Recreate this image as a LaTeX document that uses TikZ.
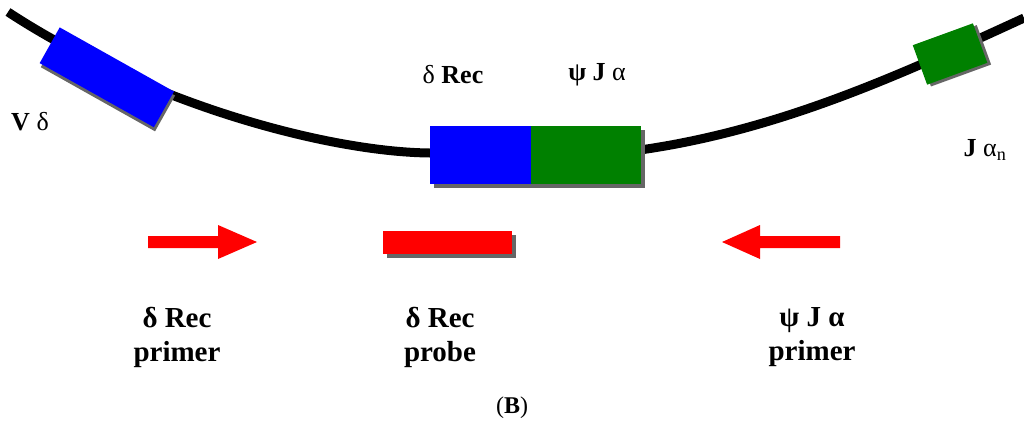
\documentclass[tikz,border=0pt]{standalone}
\usepackage{fontspec}
\setmainfont{Liberation Serif}
\begin{document}
\begin{tikzpicture}[x=1pt,y=-1pt,
  blk/.style={draw=none,minimum height=#1},
  shad/.style={fill=black!60},
  lab/.style={font=\fontsize{29}{34}\selectfont\bfseries,align=center},
  tlab/.style={font=\fontsize{26}{30}\selectfont}]
\useasboundingbox (0,0) rectangle (1024,432);
% DNA curve
\draw[line width=9pt,line cap=butt] (8,12) .. controls (150,105) and (330,152) .. (430,153) -- (640,150) .. controls (780,130) and (900,75) .. (1024,18);
% left blue block
\begin{scope}[shift={(107,78)},rotate=-29.3]
 \fill[shad] (-63,-18) rectangle (68,23);
 \fill[blue] (-66,-21) rectangle (65,20);
\end{scope}
% right small green
\begin{scope}[shift={(950,54)},rotate=20]
 \fill[shad] (-29,-18) rectangle (35,24);
 \fill[green!50!black] (-32,-21) rectangle (32,21);
\end{scope}
% central blocks
\fill[shad] (434,130) rectangle (645,188);
\node[blk=58pt,fill=blue,minimum width=101pt,anchor=north west,inner sep=0] (rec) at (430,126) {};
\node[blk=58pt,fill=green!50!black,minimum width=110pt,anchor=north west,inner sep=0] (psi) at (531,126) {};
% probe
\fill[shad] (387,235) rectangle (516,258);
\node[fill=red,minimum width=129pt,minimum height=23pt,inner sep=0,anchor=north west] (probe) at (383,231) {};
% arrows
\fill[red] (148,236) -- (218,236) -- (218,225) -- (257,242) -- (218,259) -- (218,248) -- (148,248) -- cycle;
\fill[red] (840,236) -- (760,236) -- (760,225) -- (722,242) -- (760,259) -- (760,248) -- (840,248) -- cycle;
% labels
\node[tlab] (vd) at (30,122) {\textbf{V} δ};
\node[tlab] (ja) at (985,150) {\textbf{J} α\textsubscript{n}};
\node[tlab] (tr) at (453,75) {δ \textbf{Rec}};
\node[tlab] (tp) at (597,75) {\textbf{ψ J} α};
\node[lab] (l1) at (177,337) {δ Rec\\primer};
\node[lab] (l2) at (440,337) {δ Rec\\probe};
\node[lab] (l3) at (812,337) {ψ J α\\primer};
\node[font=\fontsize{24}{28}\selectfont] (b) at (512,408) {(\textbf{B})};
\end{tikzpicture}
\end{document}
